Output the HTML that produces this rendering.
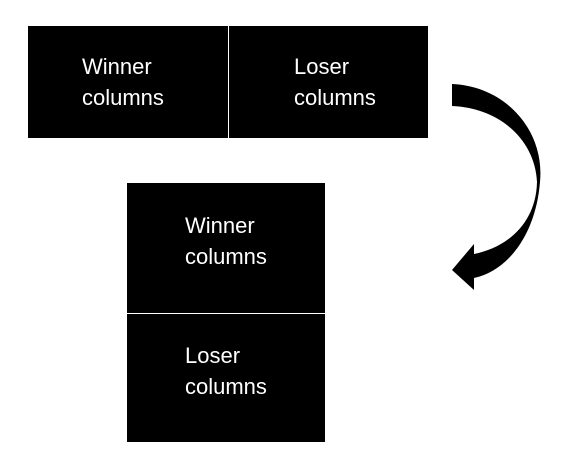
<!DOCTYPE html>
<html><head><style>
body{margin:0;width:562px;height:474px;background:#fff;position:relative;overflow:hidden;font-family:"Liberation Sans",sans-serif}
.b{position:absolute;background:#000;color:#fff}
.t{position:absolute;font-size:22px;line-height:31px;color:#fff}
</style></head><body>
<div class="b" style="left:28px;top:26px;width:400px;height:112px"></div>
<div style="position:absolute;left:228px;top:26px;width:1px;height:112px;background:#fff"></div>
<div class="t" style="left:82px;top:51px">Winner<br>columns</div>
<div class="t" style="left:294px;top:51px">Loser<br>columns</div>
<div class="b" style="left:127px;top:183px;width:198px;height:259px"></div>
<div style="position:absolute;left:127px;top:313px;width:198px;height:1px;background:#fff"></div>
<div class="t" style="left:185px;top:210px">Winner<br>columns</div>
<div class="t" style="left:185px;top:340px">Loser<br>columns</div>
<svg style="position:absolute;left:0;top:0" width="562" height="474">
<path d="M452,84 C505,86 545,130 540,182 C536,232 510,270 474,278 L474,290 L452,270 L474,244 L474,254 C505,248 536,225 537,182 C535,140 500,108 452,106 Z" fill="#000"/>
</svg>
</body></html>
